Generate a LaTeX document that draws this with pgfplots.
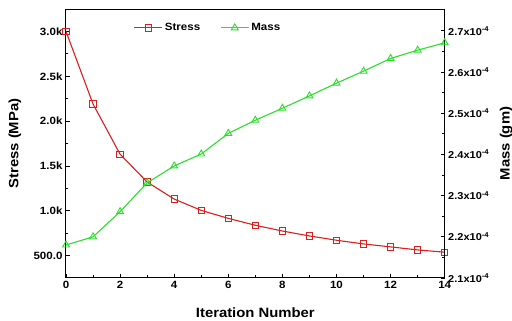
\documentclass[border=0pt]{standalone}
\usepackage{pgfplots}
\pgfplotsset{compat=1.18}
\usepackage{fontspec}
\setmainfont{Liberation Sans}[FakeStretch=1.1]
\definecolor{sred}{RGB}{220,30,30}
\definecolor{mgreen}{RGB}{45,220,45}
\pgfplotsset{legend image code/.code={\draw[mark repeat=2, mark phase=2, #1] plot coordinates {(0pt,0pt) (14pt,0pt) (28pt,0pt)};}}
\begin{document}
\begin{tikzpicture}
\useasboundingbox (-66pt,-43pt) rectangle (446pt,278pt);
\begin{axis}[
  scale only axis, width=378.7pt, height=269pt,
  xmin=0, xmax=14, ymin=250, ymax=3250,
  xtick={0,2,...,14}, minor x tick num=1,
  ytick={500,1000,1500,2000,2500,3000},
  yticklabels={500.0,1.0k,1.5k,2.0k,2.5k,3.0k},
  minor y tick num=1,
  xtick pos=bottom, ytick pos=left, tick align=inside,
  major tick length=4pt, minor tick length=2.5pt,
  axis line style={line width=1pt}, every tick/.style={line width=0.8pt, black},
  every tick label/.append style={font=\bfseries\fontsize{10.5}{12}\selectfont},
  /pgf/number format/assume math mode=true,
  xlabel={Iteration Number}, ylabel={Stress (MPa)},
  every axis x label/.style={at={(axis description cs:0.5,-0.129)}, anchor=center, font=\bfseries\fontsize{13.5}{15}\selectfont},
  every axis y label/.style={at={(axis description cs:-0.135,0.5)}, anchor=center, rotate=90, font=\bfseries\fontsize{13.5}{15}\selectfont},
  legend style={at={(axis description cs:0.375,0.93)}, anchor=center, draw=none, fill=none,
    legend columns=2, font=\bfseries\fontsize{10.5}{12}\selectfont,
    /tikz/every even column/.append style={column sep=18pt},
    /tikz/every odd column/.append style={inner xsep=1pt}},
]
\addplot[color=sred, line width=1.1pt, mark=square, mark size=3.2pt, mark options={color=sred, line width=0.9pt, fill=white}, forget plot]
coordinates {(0,3000) (1,2190) (2,1630) (3,1320) (4,1130) (5,1004) (6,915) (7,838) (8,774) (9,719) (10,671) (11,630) (12,597) (13,563) (14,538)};
\addlegendimage{color=sred, line width=1.1pt, mark=square, mark size=3.2pt, mark options={color=sred, line width=0.9pt, fill=white}}
\addlegendentry{Stress}
\addlegendimage{color=mgreen, line width=1.1pt, mark=triangle, mark size=4pt, mark options={color=mgreen, line width=0.9pt, fill=white}}
\addlegendentry{Mass}
\end{axis}
\begin{axis}[
  scale only axis, width=378.7pt, height=269pt,
  xmin=0, xmax=14, ymin=2.1, ymax=2.753,
  axis x line=none, axis y line*=right,
  ytick={2.1,2.2,2.3,2.4,2.5,2.6,2.7},
  yticklabels={2.1x10\textsuperscript{-4},2.2x10\textsuperscript{-4},2.3x10\textsuperscript{-4},2.4x10\textsuperscript{-4},2.5x10\textsuperscript{-4},2.6x10\textsuperscript{-4},2.7x10\textsuperscript{-4}},
  minor y tick num=1, tick align=inside,
  major tick length=4pt, minor tick length=2.5pt,
  axis line style={line width=1pt, -}, every tick/.style={line width=0.8pt, black},
  every tick label/.append style={font=\bfseries\fontsize{10}{12}\selectfont},
  ylabel={Mass (gm)},
  every axis y label/.style={at={(axis description cs:1.162,0.5)}, anchor=center, rotate=90, font=\bfseries\fontsize{13.5}{15}\selectfont},
]
\addplot[color=mgreen, line width=1.1pt, mark=triangle, mark size=4pt, mark options={color=mgreen, line width=0.9pt, fill=white}]
coordinates {(0,2.180) (1,2.200) (2,2.261) (3,2.331) (4,2.372) (5,2.401) (6,2.451) (7,2.483) (8,2.512) (9,2.542) (10,2.573) (11,2.602) (12,2.633) (13,2.653) (14,2.671)};
\end{axis}
\end{tikzpicture}
\end{document}
